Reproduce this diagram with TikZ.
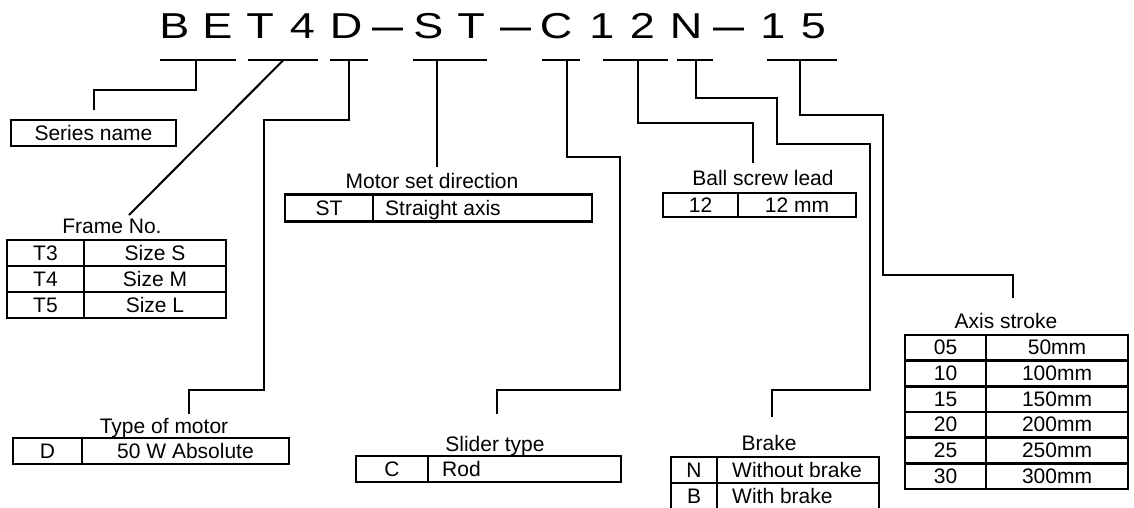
\documentclass[tikz,border=0pt]{standalone}
\usepackage{fontspec}
\setmainfont{Liberation Sans}
\usepackage{graphicx}
\newcommand{\ttlfont}{\fontsize{36}{40}\selectfont}
\newcommand{\lblfont}{\fontsize{21}{25}\selectfont}
\newcommand{\tchar}[1]{\scalebox{1.25}[1]{#1}}
\newcommand{\tdash}{\scalebox{0.86}[1.2]{—}}
\begin{document}
\begin{tikzpicture}[x=1pt,y=-1pt,
  conn/.style={line width=2pt, line join=miter},
  tbl/.style={line width=2.4pt},
  ttl/.style={font=\ttlfont, anchor=base, inner sep=0pt},
  lbl/.style={font=\lblfont, anchor=base, inner sep=0pt},
  lbll/.style={font=\lblfont, anchor=base west, inner sep=0pt}]
\useasboundingbox (0,0) rectangle (1134,507);
\fill[white] (0,0) rectangle (1134,507);

% ---- title ----
\node[ttl] (t1)  at (174.5,38.5) {\tchar{B}};
\node[ttl] (t2)  at (217.5,38.5) {\tchar{E}};
\node[ttl] (t3)  at (260,38.5)   {\tchar{T}};
\node[ttl] (t4)  at (302.5,38.5) {\tchar{4}};
\node[ttl] (t5)  at (346,38.5)   {\tchar{D}};
\node[ttl] (d1)  at (387.5,40.5) {\tdash};
\node[ttl] (t6)  at (428.5,38.5) {\tchar{S}};
\node[ttl] (t7)  at (471,38.5)   {\tchar{T}};
\node[ttl] (d2)  at (516,40.5)   {\tdash};
\node[ttl] (t8)  at (556,38.5)   {\tchar{C}};
\node[ttl] (t9)  at (602,38.5)   {\tchar{1}};
\node[ttl] (t10) at (642.5,38.5) {\tchar{2}};
\node[ttl] (t11) at (686,38.5)   {\tchar{N}};
\node[ttl] (d3)  at (729,40.5)   {\tdash};
\node[ttl] (t12) at (773,38.5)   {\tchar{1}};
\node[ttl] (t13) at (813.5,38.5) {\tchar{5}};

% ---- underlines ----
\draw[conn] (160,59.5) -- (236,59.5);
\draw[conn] (248,59.5) -- (318,59.5);
\draw[conn] (330,59.5) -- (368,59.5);
\draw[conn] (413,59.5) -- (487,59.5);
\draw[conn] (542,59.5) -- (580,59.5);
\draw[conn] (603,59.5) -- (668,59.5);
\draw[conn] (677,59.5) -- (713,59.5);
\draw[conn] (767,59.5) -- (837,59.5);

% ---- connector end points ----
\coordinate (s1) at (196,59.5);  \coordinate (e1) at (94,110);
\coordinate (s2) at (284,59.5);  \coordinate (e2) at (129,215);
\coordinate (s3) at (349,59.5);  \coordinate (e3) at (189,414);
\coordinate (s4) at (437,59.5);  \coordinate (e4) at (437,167);
\coordinate (s5) at (567,59.5);  \coordinate (e5) at (497,414);
\coordinate (s6) at (638,59.5);  \coordinate (e6) at (753,163);
\coordinate (s7) at (695.5,59.5);\coordinate (e7) at (772,417);
\coordinate (s8) at (800,59.5);  \coordinate (e8) at (1013,298);

\draw[conn] (s1) |- (94,90) -- (e1);
\draw[conn] (s2) -- (e2);
\draw[conn] (s3) |- (264,120) |- (189,390) -- (e3);
\draw[conn] (s4) -- (e4);
\draw[conn] (s5) |- (620,157) |- (497,390) -- (e5);
\draw[conn] (s6) |- (753,123) -- (e6);
\draw[conn] (s7) |- (777,98) |- (870,144) |- (772,390) -- (e7);
\draw[conn] (s8) |- (883,114.5) |- (1013,275) -- (e8);

% ---- Series name ----
\draw[tbl] (11,120) rectangle (176,146);
\node[lbl] (series) at (93.5,140) {Series name};

% ---- Frame No. ----
\node[lbl] (framelbl) at (112,233) {Frame No.};
\draw[tbl] (7,240) rectangle (226,318);
\draw[tbl] (84,240) -- (84,318);
\draw[tbl] (7,266) -- (226,266);
\draw[tbl] (7,292) -- (226,292);
\node[lbl] (f1a) at (45.5,260) {T3}; \node[lbl] (f1b) at (155,260) {Size S};
\node[lbl] (f2a) at (45.5,286) {T4}; \node[lbl] (f2b) at (155,286) {Size M};
\node[lbl] (f3a) at (45.5,312) {T5}; \node[lbl] (f3b) at (155,312) {Size L};

% ---- Type of motor ----
\node[lbl] (motorlbl) at (164,433) {Type of motor};
\draw[tbl] (13,438) rectangle (289,464);
\draw[tbl] (82,438) -- (82,464);
\node[lbl] (m1a) at (47.5,458) {D};
\node[lbl] (m1b) at (185.5,458) {50 W Absolute};

% ---- Motor set direction ----
\node[lbl] (dirlbl) at (432,188) {Motor set direction};
\draw[tbl] (285,194.5) rectangle (592,221.5);
\draw[tbl] (373,194.5) -- (373,221.5);
\node[lbl] (r1a) at (329,215) {ST};
\node[lbll] (r1b) at (385,215) {Straight axis};

% ---- Slider type ----
\node[lbl] (sliderlbl) at (495,451) {Slider type};
\draw[tbl] (356,456) rectangle (621,482);
\draw[tbl] (428,456) -- (428,482);
\node[lbl] (sl1a) at (392,476) {C};
\node[lbll] (sl1b) at (442,476) {Rod};

% ---- Ball screw lead ----
\node[lbl] (balllbl) at (763,185) {Ball screw lead};
\draw[tbl] (663,193) rectangle (856,217);
\draw[tbl] (738,193) -- (738,217);
\node[lbl] (b1a) at (700.5,212) {12};
\node[lbl] (b1b) at (797,212) {12 mm};

% ---- Brake ----
\node[lbl] (brakelbl) at (769,450) {Brake};
\draw[tbl] (671,457) rectangle (879,512);
\draw[tbl] (717,457) -- (717,512);
\draw[tbl] (671,483) -- (879,483);
\node[lbl] (k1a) at (694,477) {N};
\node[lbll] (k1b) at (732,477) {Without brake};
\node[lbl] (k2a) at (694,503) {B};
\node[lbll] (k2b) at (732,503) {With brake};

% ---- Axis stroke ----
\node[lbl] (axislbl) at (1006,328) {Axis stroke};
\draw[tbl] (905,335) rectangle (1128,489);
\draw[tbl] (986,335) -- (986,489);
\foreach \i in {1,...,5} {
  \draw[tbl] (905,335+25.667*\i) -- (1128,335+25.667*\i);
}
\node[lbl] (a1a) at (945.5,354.8) {05}; \node[lbl] (a1b) at (1057,354.8) {50mm};
\node[lbl] (a2a) at (945.5,380.5) {10}; \node[lbl] (a2b) at (1057,380.5) {100mm};
\node[lbl] (a3a) at (945.5,406.2) {15}; \node[lbl] (a3b) at (1057,406.2) {150mm};
\node[lbl] (a4a) at (945.5,431.8) {20}; \node[lbl] (a4b) at (1057,431.8) {200mm};
\node[lbl] (a5a) at (945.5,457.5) {25}; \node[lbl] (a5b) at (1057,457.5) {250mm};
\node[lbl] (a6a) at (945.5,483.2) {30}; \node[lbl] (a6b) at (1057,483.2) {300mm};
\end{tikzpicture}
\end{document}
